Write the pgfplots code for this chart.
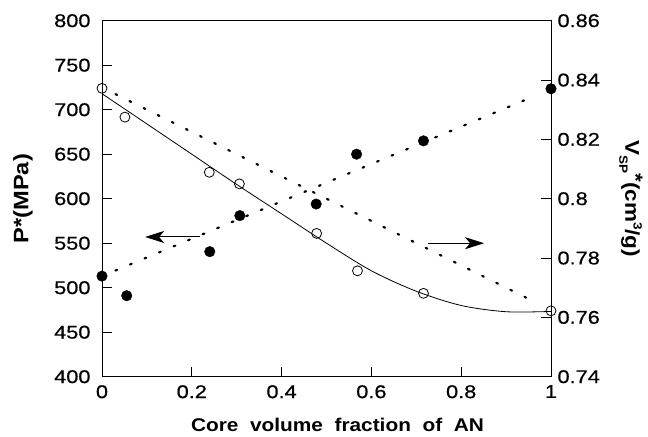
\documentclass[border=0pt]{standalone}
\usepackage{pgfplots}
\pgfplotsset{compat=1.18}
\usepackage{pgfplotstable}
\usepackage{fontspec}
\setmainfont{Liberation Sans}[FakeStretch=1.13]
\newfontfamily\tickfont{Liberation Sans}[FakeStretch=1.18, FakeBold=0.6]
\usetikzlibrary{arrows.meta}

\pgfplotstableread{
x P
0.000 513
0.055 491
0.240 540.5
0.307 581
0.477 594
0.567 650
0.716 665
1.000 723.5
}\Pdata

\pgfplotstableread{
x V
0.000 0.8372
0.051 0.8275
0.239 0.8089
0.306 0.8050
0.478 0.7883
0.569 0.7757
0.716 0.7681
1.000 0.7622
}\Vdata

\pgfplotstableread{
x V
0.0 0.8354
0.1 0.8252
0.2 0.8150
0.3 0.8048
0.4 0.7949
0.5 0.7850
0.6 0.7757
0.7 0.7688
0.8 0.7640
0.9 0.7619
1.0 0.7620
}\Vfit

\pgfplotsset{
  common/.style={
    width=449bp, height=356bp, scale only axis,
    xmin=0, xmax=1,
    tick align=inside,
    major tick length=10bp,
    axis line style={line width=1pt},
    every tick/.style={black, line width=0.9pt},
    /pgf/number format/assume math mode=true,
    ticklabel style={font=\tickfont\fontsize{18.5}{20}\selectfont},
  },
  dotline/.style={black, line width=2.2pt, dash pattern=on 1.8pt off 14pt, line cap=round},
}

\begin{document}
\begin{tikzpicture}
\begin{axis}[common, name=main,
  ymin=400, ymax=800,
  xtick={0,0.2,0.4,0.6,0.8,1},
  ytick={400,450,500,550,600,650,700,750,800},
  xtick pos=bottom, ytick pos=left,
  yticklabel style={xshift=-8bp},
  xticklabel style={yshift=-5bp},
  xlabel={Core\ \ volume\ \ fraction\ \ of\ \ AN},
  ylabel={P*(MPa)},
  every axis x label/.style={at={(axis description cs:0.5,0)}, anchor=center, xshift=11bp, yshift=-48bp, font=\fontsize{18.5}{21}\selectfont\bfseries},
  every axis y label/.style={at={(axis description cs:0,0.5)}, anchor=center, xshift=-79bp, rotate=90, font=\fontsize{21}{23}\selectfont\bfseries},
]
\addplot[dotline] coordinates {(0.03,519.3) (0.96,714.6)};
\addplot[only marks, mark=*, mark size=5.3pt, black] table[x=x,y=P] {\Pdata};
\draw[line width=1pt, -{Stealth[length=19bp,width=12bp,inset=5bp]}] (axis cs:0.218,557) -- (axis cs:0.096,557);
\draw[line width=1pt, -{Stealth[length=19bp,width=12bp,inset=5bp]}] (axis cs:0.727,550) -- (axis cs:0.851,550);
\end{axis}
\begin{axis}[common,
  ymin=0.74, ymax=0.86,
  hide x axis,
  axis y line*=right,
  ytick={0.74,0.76,0.78,0.8,0.82,0.84,0.86},
  yticklabel style={xshift=3bp},
  ylabel={V\raisebox{-0.55ex}{\fontsize{12}{12}\selectfont SP}\raisebox{0.35ex}{*}(cm\raisebox{0.8ex}{\fontsize{12}{12}\selectfont 3}/g)},
  every axis y label/.style={at={(axis description cs:1,0.5)}, anchor=center, xshift=80bp, rotate=-90, font=\fontsize{20}{22}\selectfont\bfseries},
]
\addplot[dotline] coordinates {(0.03,0.83525) (0.96,0.7655)};
\addplot[black, line width=0.8pt, smooth] table[x=x,y=V] {\Vfit};
\addplot[only marks, mark=o, mark size=5pt, black, mark options={line width=0.8pt, fill=white}] table[x=x,y=V] {\Vdata};
\end{axis}
\pgfresetboundingbox
\path[use as bounding box] ([xshift=-102bp,yshift=-60.3bp]main.south west) rectangle ([xshift=97bp,yshift=20.7bp]main.north east);
\end{tikzpicture}
\end{document}
